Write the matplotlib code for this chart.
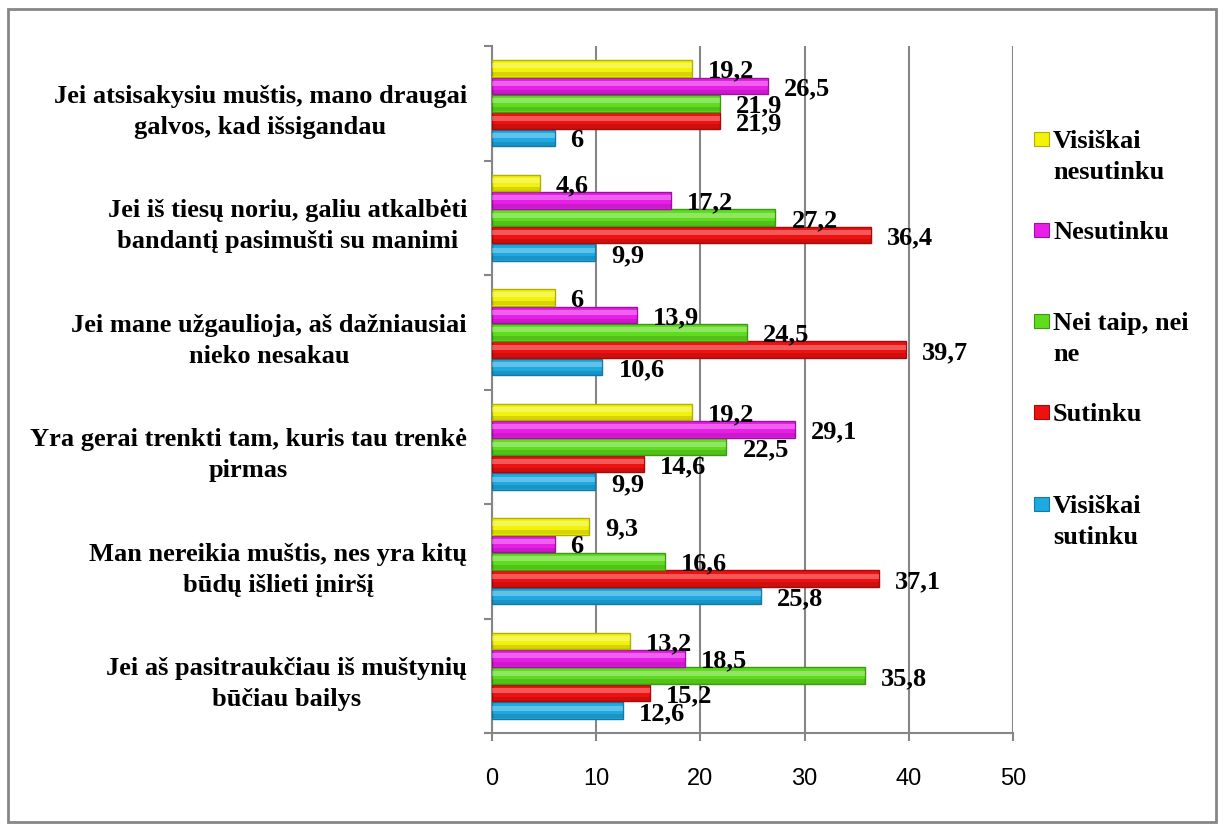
import matplotlib
matplotlib.use('Agg')
import matplotlib.pyplot as plt
import numpy as np
from matplotlib.patches import Rectangle
from matplotlib.transforms import ScaledTranslation

# categories top to bottom
categories = [
    'Jei atsisakysiu muštis, mano draugai\ngalvos, kad išsigandau',
    'Jei iš tiesų noriu, galiu atkalbėti\nbandantį pasimušti su manimi',
    'Jei mane užgaulioja, aš dažniausiai\nnieko nesakau',
    'Yra gerai trenkti tam, kuris tau trenkė\npirmas',
    'Man nereikia muštis, nes yra kitų\nbūdų išlieti įniršį',
    'Jei aš pasitraukčiau iš muštynių\nbūčiau bailys',
]

series_names = ['Visiškai\nsutinku', 'Sutinku', 'Nei taip, nei\nne', 'Nesutinku', 'Visiškai\nnesutinku']
visiskai_sutinku = [6, 9.9, 10.6, 9.9, 25.8, 12.6]
sutinku = [21.9, 36.4, 39.7, 14.6, 37.1, 15.2]
nei_taip = [21.9, 27.2, 24.5, 22.5, 16.6, 35.8]
nesutinku = [26.5, 17.2, 13.9, 29.1, 6, 18.5]
visiskai_nesutinku = [19.2, 4.6, 6, 19.2, 9.3, 13.2]

colors = ['#1ea9e0', '#ee1111', '#5fdc1e', '#e81ee8', '#f2f20a']
edges = ['#137aa5', '#a80a0a', '#3c9a12', '#a010a0', '#b0b000']

SERIF = ['Liberation Serif', 'DejaVu Serif']
FS = 19

fig = plt.figure(figsize=(12.24, 8.31), dpi=100)
ax = fig.add_axes([492 / 1224, 1 - 733 / 831, 521 / 1224, 687 / 831])

all_series = [visiskai_sutinku, sutinku, nei_taip, nesutinku, visiskai_nesutinku]
n_cat = len(categories)
y = np.arange(n_cat)[::-1].astype(float)
pitch = 0.152
h = 0.145
offsets = (np.arange(5) - 2) * pitch

for s, vals in enumerate(all_series):
    yy = y + offsets[s]
    ax.barh(yy, vals, height=h, color=colors[s], edgecolor=edges[s], linewidth=1.0, zorder=3)
    # glossy highlight and darker lower band
    ax.barh(yy + h * 0.15, vals, height=h * 0.3, color='white', alpha=0.3, linewidth=0, zorder=4)
    ax.barh(yy - h * 0.35, vals, height=h * 0.25, color='black', alpha=0.12, linewidth=0, zorder=4)
    for yi, v in zip(yy, vals):
        lbl = f'{v:g}'.replace('.', ',')
        ax.annotate(lbl, (v, yi), xytext=(11.5, -2), textcoords='offset points',
                    ha='left', va='center', fontsize=FS, fontweight='bold',
                    family=SERIF, zorder=5)

ax.set_xlim(0, 50)
ax.set_ylim(-0.5, n_cat - 0.5)
ax.set_xticks(np.arange(0, 51, 10))
ax.tick_params(axis='x', labelsize=17, length=6, width=1.5, color='#868686', pad=19)
for t in ax.get_xticklabels():
    t.set_family(['Liberation Sans', 'DejaVu Sans'])

ax.set_yticks(y)
ax.set_yticklabels(categories, fontsize=FS, fontweight='bold', family=SERIF,
                   multialignment='center', linespacing=1.45)
ax.tick_params(axis='y', which='major', length=0, pad=18)
shift = ScaledTranslation(0, -1.5 / 72, fig.dpi_scale_trans)
for t in ax.get_yticklabels():
    t.set_transform(t.get_transform() + shift)
ax.set_yticks(np.arange(-0.5, n_cat, 1.0), minor=True)
ax.tick_params(axis='y', which='minor', length=6, width=1.5, color='#868686')

ax.grid(axis='x', color='#868686', linewidth=1.5, zorder=0)
ax.set_axisbelow(True)
for side in ['top', 'right']:
    ax.spines[side].set_visible(False)
for side in ['left', 'bottom']:
    ax.spines[side].set_color('#868686')
    ax.spines[side].set_linewidth(1.5)

# legend, top to bottom (pixel centres of first text line)
legend_y = [139, 230, 321, 412, 504]
for k, s in enumerate(range(4, -1, -1)):
    yc = 1 - legend_y[k] / 831
    fig.patches.append(Rectangle((1034 / 1224, yc - 7 / 831), 15 / 1224, 14 / 831,
                                 transform=fig.transFigure, facecolor=colors[s],
                                 edgecolor=edges[s], linewidth=0.8))
    fig.text(1053 / 1224, yc + 9 / 831, series_names[s], ha='left', va='top',
             fontsize=FS, fontweight='bold', family=SERIF, linespacing=1.45)

# outer frame
fig.patches.append(Rectangle((8 / 1224, 9 / 831), 1208 / 1224, 813 / 831,
                             transform=fig.transFigure, fill=False,
                             edgecolor='#868686', linewidth=2))

fig.savefig('out.png', dpi=100)
